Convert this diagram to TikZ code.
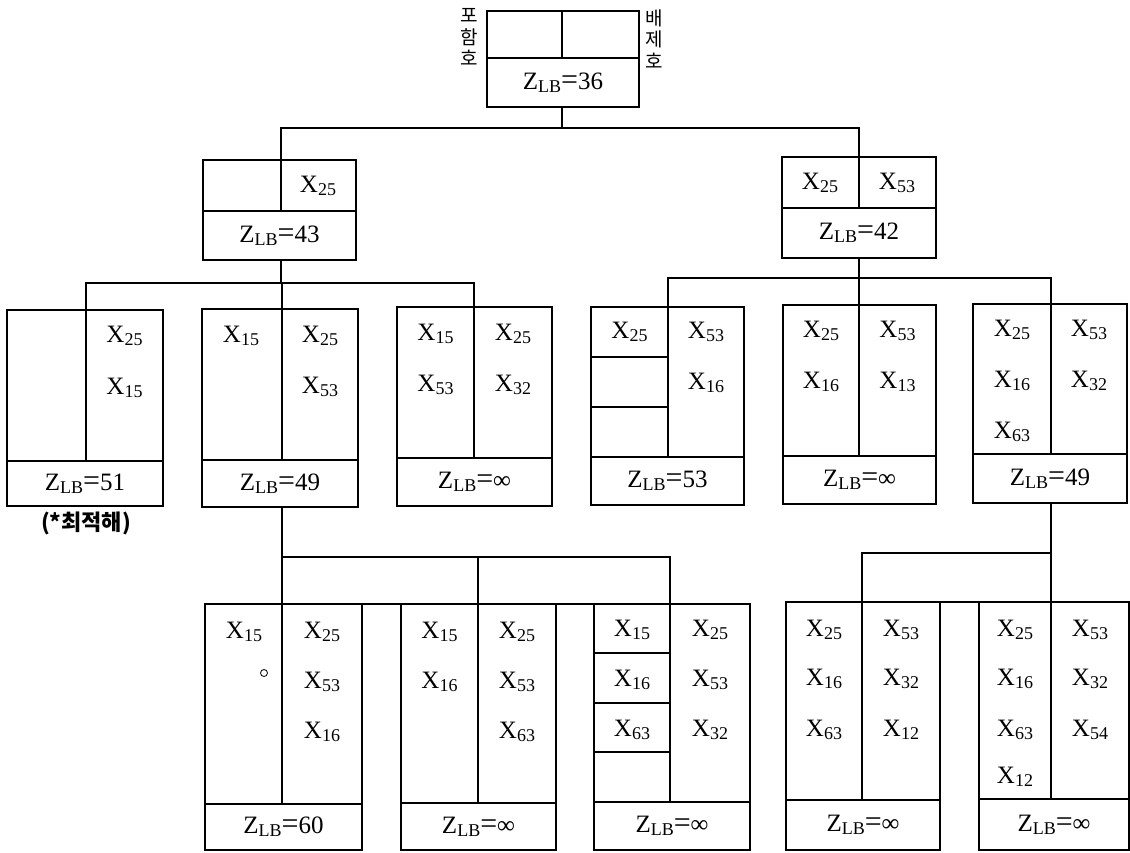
\documentclass[tikz,border=0pt]{standalone}
\usepackage{fontspec}
\setmainfont{Liberation Serif}
\newfontfamily\kr{Noto Sans CJK KR}
\newcommand\xs[1]{X\raisebox{-1.5pt}{\fontsize{9}{9}\selectfont #1}}
\newcommand\zlb[1]{Z\raisebox{-1.5pt}{\fontsize{9}{9}\selectfont LB}{\fontsize{15}{15}\selectfont =}#1}
\newcommand\bnbox[8]{%
  \draw[ln] (#2,#4) rectangle (#3,#6);
  \draw[ln] (#2,#5) -- (#3,#5);
  \draw[ln] (#7,#4) -- (#7,#5);
  \coordinate (#1-t) at (#7,#4);
  \coordinate (#1-b) at (#7,#6);
  \coordinate (#1-tl) at (#2,#4);
  \coordinate (#1-tr) at (#3,#4);
  \node[vt] (#1-z) at ({(#2+#3)/2},{(#5+#6)/2}) {\zlb{#8}};
}
\begin{document}
\begin{tikzpicture}[x=0.5pt,y=-0.5pt,
  ln/.style={line width=0.7pt},
  vt/.style={font=\fontsize{12.5}{14}\selectfont, inner sep=0pt},
  krs/.style={font=\kr\fontsize{9.5}{10.75}\selectfont, align=center, inner sep=0pt}]
\useasboundingbox (0,0) rectangle (1130,852);

% boxes
\bnbox{root}{487}{639}{11}{58}{107}{562}{36}
\bnbox{La}{203}{356}{160}{211}{260}{281}{43}
\bnbox{Lb}{782}{936}{157}{208}{258}{859}{42}
\bnbox{A}{7}{163}{310}{461}{506}{86}{51}
\bnbox{B}{202}{358}{309}{460}{507}{282}{49}
\bnbox{C}{397}{552}{307}{458}{506}{474}{∞}
\bnbox{D}{591}{744}{307}{457}{505}{668}{53}
\bnbox{E}{783}{936}{305}{456}{504}{859}{∞}
\bnbox{F}{973}{1127}{304}{454}{503}{1051}{49}
\bnbox{G}{205}{362}{604}{804}{850}{282}{60}
\bnbox{H}{401}{556}{604}{803}{850}{478}{∞}
\bnbox{I}{594}{750}{604}{802}{850}{670}{∞}
\bnbox{J}{786}{940}{602}{800}{850}{862}{∞}
\bnbox{K}{979}{1129}{602}{799}{850}{1051}{∞}

% extra cell splits
\draw[ln] (591,357) -- (668,357);
\draw[ln] (591,407) -- (668,407);
\draw[ln] (594,653) -- (670,653);
\draw[ln] (594,703) -- (670,703);
\draw[ln] (594,752) -- (670,752);
\draw[ln] (G-tl) -- (I-tr);
\draw[ln] (J-tl) -- (K-tr);

% connectors
\coordinate (bar1) at (0,128);
\coordinate (bar2) at (0,283);
\coordinate (bar3) at (0,278);
\coordinate (bar4) at (0,557);
\coordinate (bar5) at (0,553);
\draw[ln] (root-b) -- (root-b |- bar1);
\draw[ln] (La-t) -- (La-t |- bar1) -- (Lb-t |- bar1) -- (Lb-t);
\draw[ln] (La-b) -- (La-b |- bar2);
\draw[ln] (A-t) -- (A-t |- bar2) -- (C-t |- bar2) -- (C-t);
\draw[ln] (B-t) -- (B-t |- bar2);
\draw[ln] (Lb-b) -- (Lb-b |- bar3);
\draw[ln] (D-t) -- (D-t |- bar3) -- (F-t |- bar3) -- (F-t);
\draw[ln] (E-t) -- (E-t |- bar3);
\draw[ln] (B-b) -- (B-b |- bar4);
\draw[ln] (G-t) -- (G-t |- bar4) -- (I-t |- bar4) -- (I-t);
\draw[ln] (H-t) -- (H-t |- bar4);
\draw[ln] (F-b) -- (F-b |- bar5);
\draw[ln] (J-t) -- (J-t |- bar5) -- (K-t |- bar5) -- (K-t);

% Korean labels
\node[krs] (inc) at (469,37) {포\\함\\호};
\node[krs] (exc) at (654,39) {배\\제\\호};
\node[font=\kr\bfseries\fontsize{11}{13}\selectfont, inner sep=0pt] (opt) at (86,523) {(*최적해)};

% level 1 texts
\node[vt] (La1r) at (318,186) {\xs{25}};
\node[vt] (Lb1l) at (820,183) {\xs{25}};
\node[vt] (Lb1r) at (897,183) {\xs{53}};

% level 2 texts
\node[vt] (A1r) at (124.5,336) {\xs{25}};
\node[vt] (A2r) at (124.5,388) {\xs{15}};
\node[vt] (B1l) at (241,336) {\xs{15}};
\node[vt] (B1r) at (320,336) {\xs{25}};
\node[vt] (B2r) at (320,387) {\xs{53}};
\node[vt] (C1l) at (435.5,334) {\xs{15}};
\node[vt] (C2l) at (435.5,385) {\xs{53}};
\node[vt] (C1r) at (513,334) {\xs{25}};
\node[vt] (C2r) at (513,385) {\xs{32}};
\node[vt] (D1l) at (629.5,332) {\xs{25}};
\node[vt] (D1r) at (706,332) {\xs{53}};
\node[vt] (D2r) at (706,383) {\xs{16}};
\node[vt] (E1l) at (821,331) {\xs{25}};
\node[vt] (E2l) at (821,382) {\xs{16}};
\node[vt] (E1r) at (897.5,331) {\xs{53}};
\node[vt] (E2r) at (897.5,382) {\xs{13}};
\node[vt] (F1l) at (1012,330) {\xs{25}};
\node[vt] (F2l) at (1012,381) {\xs{16}};
\node[vt] (F3l) at (1012,432) {\xs{63}};
\node[vt] (F1r) at (1089,330) {\xs{53}};
\node[vt] (F2r) at (1089,381) {\xs{32}};

% level 3 texts
\node[vt] (G1l) at (244,632) {\xs{15}};
\node[circle, draw, line width=0.4pt, inner sep=0pt, minimum size=3.5pt] (Gc) at (264,673) {};
\node[vt] (G1r) at (322,632) {\xs{25}};
\node[vt] (G2r) at (322,682) {\xs{53}};
\node[vt] (G3r) at (322,732) {\xs{16}};
\node[vt] (H1l) at (439.5,632) {\xs{15}};
\node[vt] (H2l) at (439.5,682) {\xs{16}};
\node[vt] (H1r) at (517,632) {\xs{25}};
\node[vt] (H2r) at (517,682) {\xs{53}};
\node[vt] (H3r) at (517,732) {\xs{63}};
\node[vt] (I1l) at (632,630) {\xs{15}};
\node[vt] (I2l) at (632,680) {\xs{16}};
\node[vt] (I3l) at (632,730) {\xs{63}};
\node[vt] (I1r) at (710,630) {\xs{25}};
\node[vt] (I2r) at (710,680) {\xs{53}};
\node[vt] (I3r) at (710,730) {\xs{32}};
\node[vt] (J1l) at (824,630) {\xs{25}};
\node[vt] (J2l) at (824,679) {\xs{16}};
\node[vt] (J3l) at (824,730) {\xs{63}};
\node[vt] (J1r) at (901,630) {\xs{53}};
\node[vt] (J2r) at (901,679) {\xs{32}};
\node[vt] (J3r) at (901,730) {\xs{12}};
\node[vt] (K1l) at (1015,630) {\xs{25}};
\node[vt] (K2l) at (1015,679) {\xs{16}};
\node[vt] (K3l) at (1015,730) {\xs{63}};
\node[vt] (K4l) at (1015,777) {\xs{12}};
\node[vt] (K1r) at (1090,630) {\xs{53}};
\node[vt] (K2r) at (1090,679) {\xs{32}};
\node[vt] (K3r) at (1090,730) {\xs{54}};
\end{tikzpicture}
\end{document}
